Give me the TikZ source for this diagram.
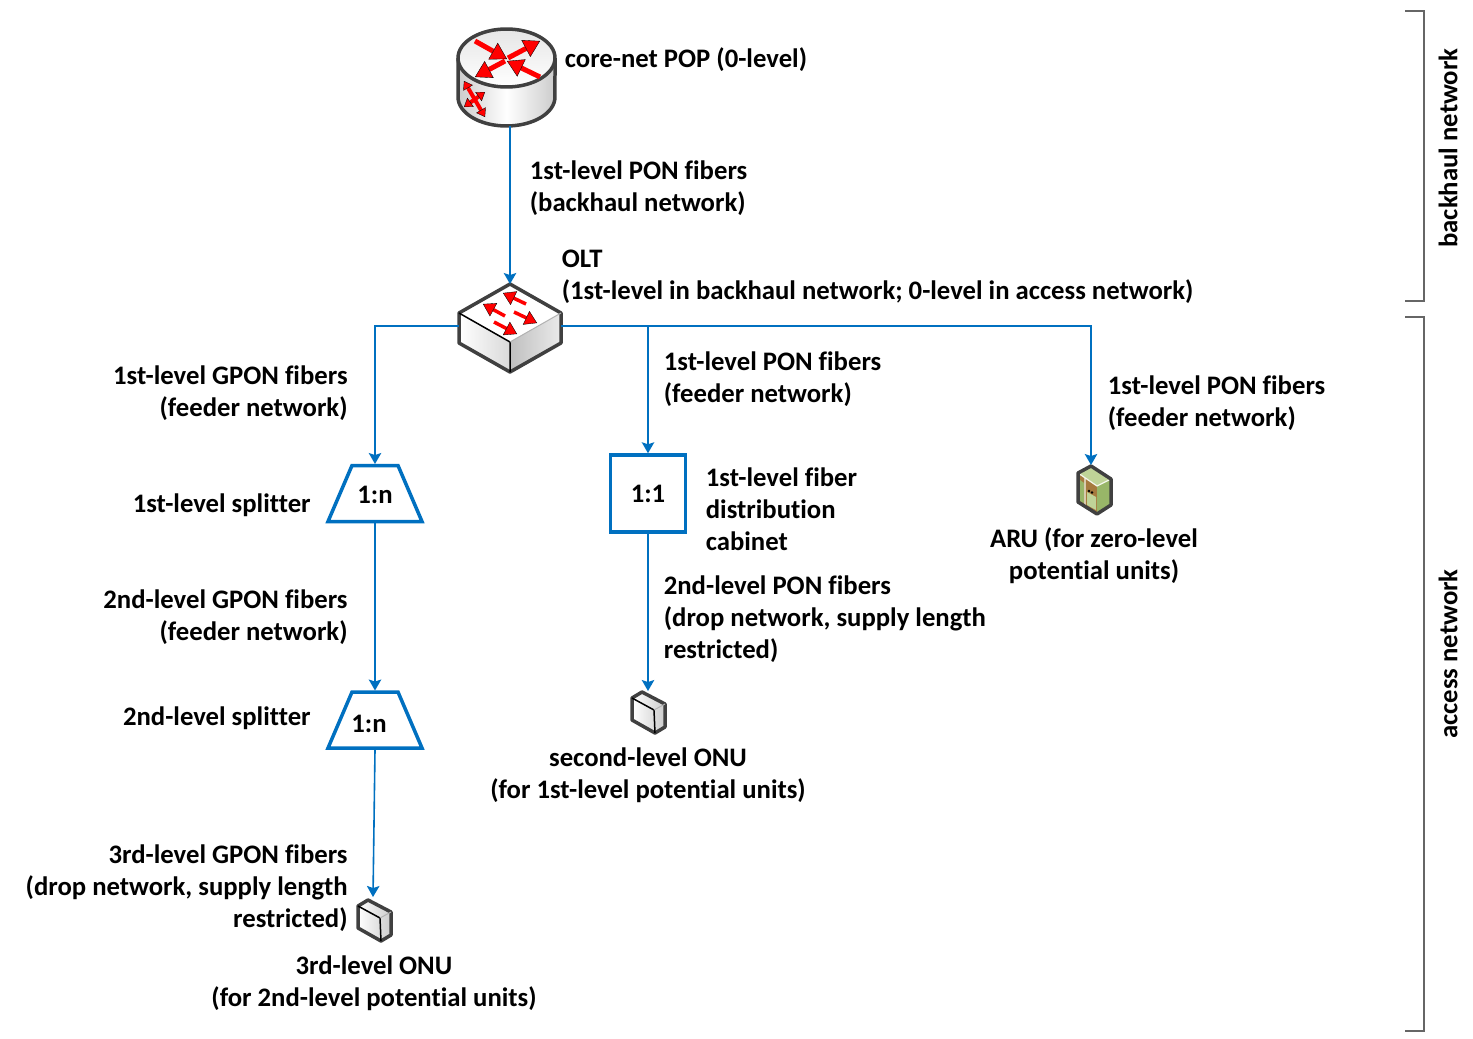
\documentclass[tikz,border=0pt]{standalone}
\usepackage{fontspec}
\setmainfont[Ligatures=NoCommon]{Carlito}
\usetikzlibrary{arrows.meta}
\definecolor{fiberblue}{RGB}{0,112,192}
\definecolor{icongray}{RGB}{64,64,64}
\definecolor{arutop}{RGB}{192,212,152}
\definecolor{aruside}{RGB}{152,182,104}
\definecolor{arubrown}{RGB}{166,122,62}
\tikzset{
  lbl/.style={inner sep=0pt,align=left,font=\fontsize{15.2}{18.14}\selectfont\bfseries},
  fiber/.style={draw=fiberblue,line width=0.032cm,-{Stealth[length=0.22cm,width=0.25cm,inset=0.04cm]}},
  blueline/.style={draw=fiberblue,line width=0.07cm,line join=miter},
  cabinet/.style={blueline,minimum width=1.5cm,minimum height=1.54cm,inner sep=0pt},
  port/.style={inner sep=0pt,outer sep=0pt},
  bracket/.style={draw=black!60,line width=0.025cm},
  redarrow/.style={red,line width=0.1cm,-{Triangle[length=0.32cm,width=0.38cm,fill=red,color=black,line width=0.2pt]}},
  swarrow/.style={red,line width=0.07cm,-{Triangle[length=0.24cm,width=0.3cm,fill=red,color=black,line width=0.2pt]}},
  redsmall/.style={red,line width=0.08cm,{Triangle[length=0.16cm,width=0.22cm,fill=red,color=black,line width=0.2pt]}-{Triangle[length=0.16cm,width=0.22cm,fill=red,color=black,line width=0.2pt]}},
  icon/.style={draw=icongray,line width=0.07cm,line join=round},
  trap/.pic={
    \draw[blueline] (-23,-28)--(23,-28)--(47,28)--(-47,28)--cycle;
  },
  onu/.pic={
    \path[left color=white,right color=black!20] (-17,-20)--(-7,-26)--(16,-14)--(16,9)--(6,15)--(-17,2)--cycle;
    \draw[icon] (-17,-20)--(-7,-26)--(16,-14)--(16,9)--(6,15)--(-17,2)--cycle;
    \draw[black,line width=0.03cm] (-17,-20)--(5,-8)--(6,15);
    \draw[black!30,line width=0.02cm] (5,-8)--(16,-14);
  }
}
\begin{document}
\begin{tikzpicture}[x=0.02cm,y=-0.02cm]
\useasboundingbox (0,0) rectangle (1473,1038);
% router
\node[port,minimum width=1.94cm,minimum height=1.94cm] (pop) at (507,77.5) {};
\path[left color=black!20,right color=black!20,middle color=white] (458,58)--(458,97) arc[start angle=180,end angle=360,x radius=0.97cm,y radius=0.58cm]--(555,58)--cycle;
\draw[icon] (458,58)--(458,97) arc[start angle=180,end angle=360,x radius=0.97cm,y radius=0.58cm]--(555,58);
\draw[icon,top color=black!10,bottom color=white] (506.5,58) ellipse[x radius=0.97cm,y radius=0.58cm];
\draw[redarrow] (475,41)--(507,59);
\draw[redarrow] (508,58)--(540,41);
\draw[redarrow] (505,61)--(475,77);
\draw[redarrow] (540,77)--(507,61);
\draw[redsmall] (464,81)--(485,117);
\draw[redsmall] (485,92)--(464,107);
% switch
\node[port,minimum width=2.04cm,minimum height=1.68cm] (olt) at (510,326) {};
\path[fill=white] (459,313)--(510,284)--(561,313)--(510,342)--cycle;
\path[left color=white,right color=black!15] (459,313)--(510,342)--(510,372)--(459,343)--cycle;
\path[left color=black!25,right color=black!8] (510,342)--(561,313)--(561,343)--(510,372)--cycle;
\draw[icon] (459,313)--(510,284)--(561,313)--(561,343)--(510,372)--(459,343)--cycle;
\draw[black,line width=0.03cm] (459,313)--(510,342)--(510,372);
\draw[black!30,line width=0.02cm] (510,342)--(561,313);
\draw[swarrow] (526,304)--(503,293);
\draw[swarrow] (505,316)--(483,304);
\draw[swarrow] (514,312)--(537,323);
\draw[swarrow] (494,322)--(517,334);
% splitters and cabinet
\node[port,minimum width=1.92cm,minimum height=1.18cm] (split1) at (375,493.5) {};
\node[port,minimum width=1.92cm,minimum height=1.18cm] (split2) at (375,720) {};
\pic at (split1) {trap};
\pic at (split2) {trap};
\node[lbl] (split1txt) at (375,495) {1:n};
\node[lbl] (split2txt) at (369,724) {1:n};
\node[cabinet] (cab) at (648,493.5) {\fontsize{15.2}{18.14}\selectfont\bfseries 1:1};
% ARU
\node[port,minimum width=0.7cm,minimum height=0.98cm] (aru) at (1091,489.5) {};
\fill[arutop] (1078,473)--(1091,466)--(1111,479)--(1097,486)--cycle;
\fill[arubrown] (1078,473)--(1097,486)--(1097,514)--(1078,502)--cycle;
\fill[aruside] (1097,486)--(1111,479)--(1111,505)--(1097,514)--cycle;
\fill[aruside] (1080,480)--(1084,483)--(1084,503)--(1080,501)--cycle;
\fill[arutop] (1087,492)--(1096,497)--(1096,510)--(1087,505)--cycle;
\fill[black] (1089,491) circle (1.3) (1092,492.5) circle (1.3);
\draw[white!80!arutop,line width=0.025cm] (1085,478)--(1085,506) (1078,473)--(1097,486)--(1111,479);
\draw[icon,line width=0.07cm] (1078,473)--(1091,466)--(1111,479)--(1111,505)--(1097,514)--(1078,502)--cycle;
% ONUs
\node[port,minimum width=0.68cm,minimum height=0.84cm] (onu1) at (648,712) {};
\pic at (649,718) {onu};
\node[port,minimum width=0.68cm,minimum height=0.92cm] (onu2) at (373,920) {};
\pic at (375,926) {onu};
% fibers
\draw[fiber] (olt.north |- pop.south) -- (olt.north);
\draw[fiber] (olt.west) -| (split1.north);
\draw[fiber] (olt.east) -| (cab.north);
\draw[fiber] (olt.east) -| (aru.north);
\draw[fiber] (split1.south) -- (split2.north);
\draw[fiber] (split2.south) -- (onu2.north);
\draw[fiber] (cab.south) -- (onu1.north);
% brackets
\coordinate (bh1) at (1405,11);
\coordinate (bh2) at (1405,301);
\coordinate (ac1) at (1405,317);
\coordinate (ac2) at (1405,1031);
\draw[bracket] (bh1) -- (1424,11) -- (1424,301) -- (bh2);
\draw[bracket] (ac1) -- (1424,317) -- (1424,1031) -- (ac2);
\node[lbl,rotate=90] (bhtxt) at (1448,148) {backhaul network};
\node[lbl,rotate=90] (actxt) at (1448,654) {access network};
% labels
\node[lbl,anchor=west] (l1) at (564.5,59.5) {core-net POP (0-level)};
\node[lbl,anchor=west] (l2) at (529.5,188.5) {1st-level PON fibers\\(backhaul network)};
\node[lbl,anchor=west] (l3) at (561.5,276.5) {OLT\\(1st-level in backhaul network; 0-level in access network)};
\node[lbl,anchor=east,align=right] (l4) at (348,393.5) {1st-level GPON fibers\\(feeder network)};
\node[lbl,anchor=west] (l5) at (663.5,379.5) {1st-level PON fibers\\(feeder network)};
\node[lbl,anchor=west] (l6) at (1107.5,403.5) {1st-level PON fibers\\(feeder network)};
\node[lbl,anchor=east] (l7) at (311,505.5) {1st-level splitter};
\node[lbl,anchor=west] (l8) at (705.5,509) {1st-level fiber\\distribution\\cabinet};
\node[lbl,align=center] (l9) at (1094,555.5) {ARU (for zero-level\\potential units)};
\node[lbl,anchor=east,align=right] (l10) at (348,617.5) {2nd-level GPON fibers\\(feeder network)};
\node[lbl,anchor=west] (l11) at (663.5,619.5) {2nd-level PON fibers\\(drop network, supply length\\restricted)};
\node[lbl,anchor=east] (l12) at (311,718.5) {2nd-level splitter};
\node[lbl,align=center] (l13) at (648,775.5) {second-level ONU\\(for 1st-level potential units)};
\node[lbl,anchor=east,align=right] (l14) at (348,888.5) {3rd-level GPON fibers\\(drop network, supply length\\restricted)};
\node[lbl,align=center] (l15) at (374,983.5) {3rd-level ONU\\(for 2nd-level potential units)};
\end{tikzpicture}
\end{document}
